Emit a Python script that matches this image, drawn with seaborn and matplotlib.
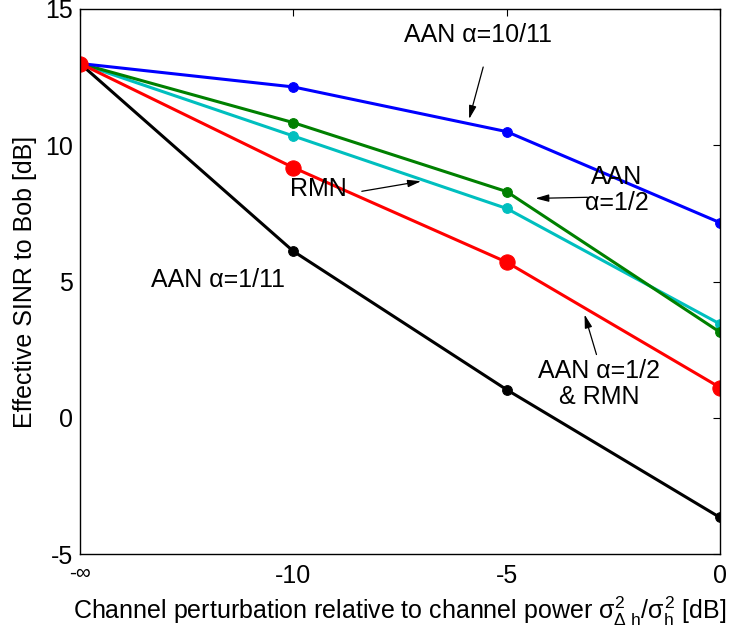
import numpy as np
import pandas as pd
import matplotlib
matplotlib.use("Agg")
import matplotlib.pyplot as plt
import seaborn as sns

# ---- data ----
x_labels = ["-\u221e", "-10", "-5", "0"]
aan_1_11 = [13.0, 6.11, 1.03, -3.66]
rmn = [13.0, 10.34, 7.68, 3.44]
aan_1_2 = [13.0, 10.83, 8.30, 3.14]
aan_10_11 = [13.0, 12.14, 10.50, 7.16]
aan_1_2_rmn = [13.0, 9.18, 5.71, 1.11]

series_names = ["AAN 1/11", "RMN", "AAN 1/2", "AAN 10/11", "AAN 1/2 & RMN"]
series_values = [aan_1_11, rmn, aan_1_2, aan_10_11, aan_1_2_rmn]
series_colors = ["#000000", "#00BFBF", "#008000", "#0000FF", "#FF0000"]
series_msize = [7, 7, 7, 7, 11]

sns.set_style("white")
plt.rcParams["font.family"] = ["Liberation Sans", "DejaVu Sans"]
plt.rcParams["mathtext.fontset"] = "custom"
plt.rcParams["mathtext.rm"] = "Liberation Sans"
plt.rcParams["mathtext.it"] = "Liberation Sans"
plt.rcParams["mathtext.sf"] = "Liberation Sans"
plt.rcParams["axes.unicode_minus"] = False
plt.rcParams["text.color"] = "black"
plt.rcParams["axes.labelcolor"] = "black"
plt.rcParams["xtick.color"] = "black"
plt.rcParams["ytick.color"] = "black"

rows = []
for name, vals in zip(series_names, series_values):
    for i, v in enumerate(vals):
        rows.append({"series": name, "pos": i, "value": v})
df = pd.DataFrame(rows)

fig = plt.figure(figsize=(7.42, 6.36), dpi=100)
ax = fig.add_axes([80 / 742, 1 - 554 / 636, 640 / 742, 545 / 636])

for name, col, ms in zip(series_names, series_colors, series_msize):
    sub = df[df["series"] == name]
    sns.lineplot(data=sub, x="pos", y="value", ax=ax, color=col, lw=2.2,
                 marker="o", markersize=ms, markeredgecolor=col,
                 markerfacecolor=col, legend=False)

FS = 18
ax.set_xlim(0, 3)
ax.set_ylim(-5, 15)
ax.set_xticks(range(len(x_labels)))
ax.set_xticklabels(x_labels)
ax.set_yticks([-5, 0, 5, 10, 15])
ax.tick_params(direction="in", top=True, right=True, length=5, width=0.8,
               labelsize=FS, colors="black")
ax.tick_params(axis="y", pad=5)
ax.tick_params(axis="x", pad=7)
lbl0 = ax.get_xticklabels()[0]
lbl0.set_fontsize(15)
for s in ax.spines.values():
    s.set_visible(True)
    s.set_color("black")
    s.set_linewidth(1.0)

ax.set_xlabel(r"Channel perturbation relative to channel power $\sigma^2_{\Delta\ h}/\sigma^2_h$ [dB]",
              fontsize=FS, labelpad=5)
ax.set_ylabel("Effective SINR to Bob [dB]", fontsize=FS, labelpad=6)

aprops = dict(arrowstyle="-|>,head_length=0.8,head_width=0.22", color="black",
              lw=0.9, shrinkA=0, shrinkB=0)
ax.text(1.866, 14.04, "AAN \u03b1=10/11", fontsize=FS, ha="center", va="center")
ax.annotate("", xy=(1.824, 10.96), xytext=(1.89, 12.87), arrowprops=aprops)

ax.text(1.119, 8.38, "RMN", fontsize=FS, ha="center", va="center")
ax.annotate("", xy=(1.599, 8.68), xytext=(1.321, 8.31), arrowprops=aprops)

ax.text(2.515, 8.35, "AAN\n\u03b1=1/2", fontsize=FS, ha="center", va="center",
        linespacing=1.1)
ax.annotate("", xy=(2.134, 8.05), xytext=(2.379, 8.09), arrowprops=aprops)

ax.text(2.435, 1.25, "AAN \u03b1=1/2\n& RMN", fontsize=FS, ha="center", va="center",
        linespacing=1.1)
ax.annotate("", xy=(2.365, 3.79), xytext=(2.421, 2.32), arrowprops=aprops)

ax.text(0.649, 5.07, "AAN \u03b1=1/11", fontsize=FS, ha="center", va="center")

fig.savefig("out.png", dpi=100)
